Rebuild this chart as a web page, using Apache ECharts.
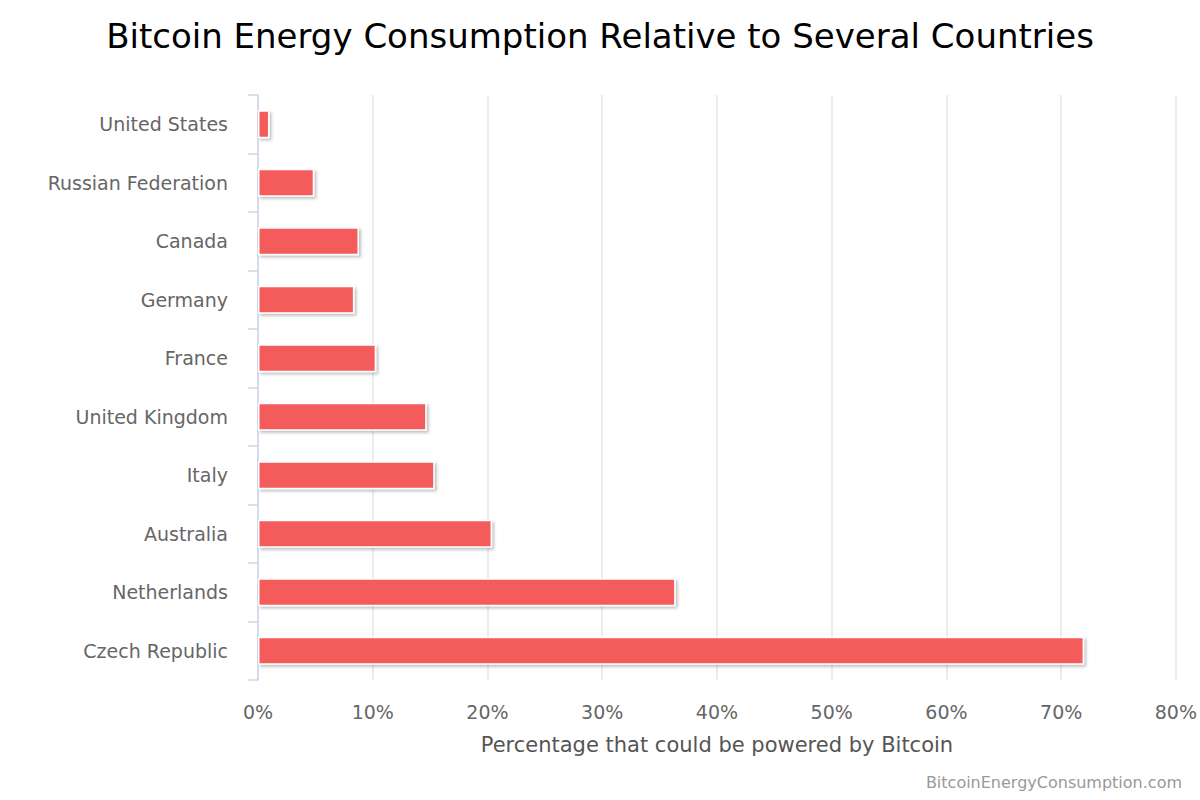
<!DOCTYPE html>
<html>
<head>
<meta charset="utf-8">
<script src="https://cdn.jsdelivr.net/npm/echarts@6/dist/echarts.min.js"></script>
<style>
  html, body { margin: 0; padding: 0; background: #fff; }
  #chart { width: 1200px; height: 800px; }
</style>
</head>
<body>
<div id="chart"></div>
<script>
var countries = ['United States', 'Russian Federation', 'Canada', 'Germany', 'France',
  'United Kingdom', 'Italy', 'Australia', 'Netherlands', 'Czech Republic'];
var shares = [1.0, 4.9, 8.8, 8.4, 10.3, 14.7, 15.4, 20.4, 36.4, 72.0];
var ticks = [0, 10, 20, 30, 40, 50, 60, 70, 80];

var chart = echarts.init(document.getElementById('chart'), null, { renderer: 'svg' });
chart.setOption({
  animation: false,
  textStyle: { fontFamily: 'DejaVu Sans' },
  title: {
    text: 'Bitcoin Energy Consumption Relative to Several Countries',
    left: 'center',
    top: 14,
    textStyle: { fontSize: 34, fontWeight: 'normal', color: '#000', fontFamily: 'DejaVu Sans' }
  },
  graphic: [{
    type: 'text',
    right: 18,
    bottom: 10,
    style: { text: 'BitcoinEnergyConsumption.com', fontSize: 16, fill: '#999', fontFamily: 'DejaVu Sans' }
  }],
  grid: { left: 258, right: 20, top: 95, bottom: 120 },
  xAxis: {
    type: 'value',
    min: ticks[0],
    max: ticks[ticks.length - 1],
    interval: 10,
    name: 'Percentage that could be powered by Bitcoin',
    nameLocation: 'middle',
    nameGap: 54,
    nameTextStyle: { fontSize: 21, color: '#555' },
    axisLine: { show: false },
    axisTick: { show: false },
    axisLabel: { formatter: '{value}%', color: '#666', fontSize: 19, margin: 22 },
    splitLine: { lineStyle: { color: '#e6e6e6', width: 1.5 } }
  },
  yAxis: {
    type: 'category',
    data: countries,
    inverse: true,
    offset: 16,
    axisLine: { lineStyle: { color: '#ccd6eb', width: 1.5 } },
    axisTick: { show: true, length: 10, lineStyle: { color: '#ccd6eb', width: 1.5 } },
    axisLabel: { color: '#666', fontSize: 19, margin: 14 }
  },
  series: [{
    type: 'bar',
    data: shares,
    barWidth: '48%',
    itemStyle: {
      color: '#f45b5b',
      borderColor: '#fff',
      borderWidth: 1.5,
      shadowColor: 'rgba(0,0,0,0.25)',
      shadowBlur: 3,
      shadowOffsetX: 2,
      shadowOffsetY: 2
    }
  }]
});
</script>
</body>
</html>
